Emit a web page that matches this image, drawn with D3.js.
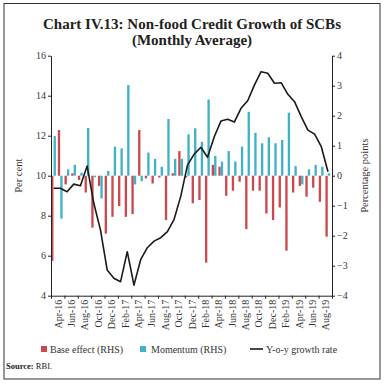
<!DOCTYPE html>
<html>
<head>
<meta charset="utf-8">
<script src="https://cdn.jsdelivr.net/npm/d3@7"></script>
<style>
  html, body { margin: 0; padding: 0; background: #fff; }
  svg { display: block; font-family: "Liberation Serif", "DejaVu Serif", serif; }
  .axis path, .axis line { stroke: #222; }
  .axis text { fill: #333; font-size: 10px; font-family: "Liberation Serif", serif; }
</style>
</head>
<body>
<div id="chart"></div>
<script>
// Month labels (Apr-16 .. Sep-19)
const months = [
  'Apr-16','May-16','Jun-16','Jul-16','Aug-16','Sep-16','Oct-16','Nov-16','Dec-16','Jan-17','Feb-17','Mar-17',
  'Apr-17','May-17','Jun-17','Jul-17','Aug-17','Sep-17','Oct-17','Nov-17','Dec-17','Jan-18','Feb-18','Mar-18',
  'Apr-18','May-18','Jun-18','Jul-18','Aug-18','Sep-18','Oct-18','Nov-18','Dec-18','Jan-19','Feb-19','Mar-19',
  'Apr-19','May-19','Jun-19','Jul-19','Aug-19','Sep-19'
];

// Base effect (RHS, percentage points)
const baseEffect = [
  -2.84, 1.52, -0.29, 0.08, -0.14, -0.56, -1.73, -0.34, -1.93, -1.37, -1.01, -1.37,
  -1.28, 1.52, -0.09, -0.26, -0.06, -1.48, 0.08, 0.82, -0.06, -0.92, -0.81, -2.9,
  0.36, 0.3, -0.67, -0.5, -0.2, -1.78, -0.5, -0.5, -1.26, -1.48, -1.06, -2.5,
  -0.56, -0.34, -0.7, -0.4, -0.87, -2.03
];

// Momentum (RHS, percentage points)
const momentum = [
  1.32, -1.43, 0.21, 0.36, 0.1, 1.59, -0.05, -0.76, 0.16, 0.97, 0.91, 3.02,
  -0.29, -0.18, 0.77, 0.56, 0.3, 1.89, 0.56, 0.56, 1.38, 1.58, 1.13, 2.54,
  0.66, 0.47, 0.82, 0.47, 0.97, 2.13, 1.43, 1.08, 1.28, 1.08, 1.19, 2.1,
  0.32, -0.29, 0.21, 0.36, 0.3, 0.08
];

// Y-o-y growth rate (LHS, per cent)
const yoyGrowth = [
  9.37, 9.37, 9.2, 9.58, 9.5, 10.48, 8.62, 7.28, 5.28, 4.87, 4.7, 6.2,
  4.53, 5.8, 6.4, 6.73, 6.9, 7.2, 7.82, 8.98, 10.53, 11.08, 11.42, 10.92,
  11.95, 12.73, 12.82, 12.68, 13.37, 13.75, 14.53, 15.2, 15.12, 14.62, 14.65, 14.07,
  13.7, 12.95, 12.28, 12.08, 11.45, 10.2
];

const leftTicks = [4, 6, 8, 10, 12, 14, 16];
const rightTicks = [-4, -3, -2, -1, 0, 1, 2, 3, 4];

const W = 384, H = 385;
const plot = { left: 51, right: 332, top: 55.7, bottom: 295.7 };
const RED = '#c9494e', BLUE = '#3fb1c8';

const svg = d3.select('#chart').append('svg')
  .attr('width', W).attr('height', H);

// frame
svg.append('rect')
  .attr('x', 4).attr('y', 3.5).attr('width', 376).attr('height', 375.5)
  .attr('fill', 'none').attr('stroke', '#333').attr('stroke-width', 1);

// title
const title = svg.append('text')
  .attr('text-anchor', 'middle')
  .attr('font-weight', 'bold').attr('font-size', 15).attr('fill', '#222');
title.append('tspan').attr('x', 192).attr('y', 29).text('Chart IV.13: Non-food Credit Growth of SCBs');
title.append('tspan').attr('x', 192).attr('y', 45).text('(Monthly Average)');

// scales
const x = d3.scaleBand().domain(months).range([plot.left, plot.right]).padding(0);
const xi = d3.scaleLinear().domain([0, months.length]).range([plot.left, plot.right]);
const sub = d3.scaleBand().domain(['base', 'momentum'])
  .range([0, x.bandwidth() * 0.75]).paddingInner(0.05).paddingOuter(0.05);
const yL = d3.scaleLinear().domain([4, 16]).range([plot.bottom, plot.top]);
const yR = d3.scaleLinear().domain([-4, 4]).range([plot.bottom, plot.top]);

// bars
const series = [
  { key: 'base', values: baseEffect, color: RED },
  { key: 'momentum', values: momentum, color: BLUE }
];
series.forEach(s => {
  svg.append('g').selectAll('rect')
    .data(s.values)
    .join('rect')
    .attr('x', (d, i) => x(months[i]) + sub(s.key))
    .attr('width', sub.bandwidth())
    .attr('y', d => yR(Math.max(0, d)))
    .attr('height', d => Math.abs(yR(d) - yR(0)))
    .attr('fill', s.color);
});

// line
const line = d3.line()
  .x((d, i) => x(months[i]) + x.bandwidth() * 0.4)
  .y(d => yL(d));
svg.append('path')
  .datum(yoyGrowth)
  .attr('d', line)
  .attr('fill', 'none').attr('stroke', '#1a1a1a').attr('stroke-width', 1.6)
  .attr('stroke-linejoin', 'round');

// left axis
svg.append('g').attr('class', 'axis')
  .attr('transform', `translate(${plot.left},0)`)
  .call(d3.axisLeft(yL).tickValues(leftTicks).tickSize(3).tickPadding(2).tickSizeOuter(0));

// right axis
svg.append('g').attr('class', 'axis')
  .attr('transform', `translate(${plot.right},0)`)
  .call(d3.axisRight(yR).tickValues(rightTicks).tickSize(3).tickPadding(2).tickSizeOuter(0));

// bottom axis: ticks every two months at boundaries
const tickIdx = d3.range(0, months.length + 1, 2);
svg.append('g').attr('class', 'axis')
  .attr('transform', `translate(0,${plot.bottom})`)
  .call(d3.axisBottom(xi).tickValues(tickIdx).tickSize(3).tickSizeOuter(0).tickFormat(''));

// bottom labels between the ticks
const labelIdx = d3.range(1, months.length, 2);
const xLab = svg.append('g').attr('class', 'axis')
  .attr('transform', `translate(0,${plot.bottom})`)
  .call(d3.axisBottom(xi).tickValues(labelIdx).tickSize(0).tickPadding(0)
    .tickFormat(i => months[i - 1]));
xLab.select('.domain').remove();
xLab.selectAll('text')
  .attr('transform', 'rotate(-90)')
  .attr('x', -4).attr('y', 0).attr('dy', '0.35em')
  .attr('text-anchor', 'end');

// axis titles
svg.append('text')
  .attr('transform', `translate(18,${(plot.top + plot.bottom) / 2}) rotate(-90)`)
  .attr('text-anchor', 'middle').attr('dy', '0.35em')
  .attr('font-size', 10.5).attr('fill', '#333').text('Per cent');
svg.append('text')
  .attr('transform', `translate(364,${(plot.top + plot.bottom) / 2}) rotate(-90)`)
  .attr('text-anchor', 'middle').attr('dy', '0.35em')
  .attr('font-size', 10.5).attr('fill', '#333').text('Percentage points');

// legend
const legend = svg.append('g').attr('font-size', 10).attr('fill', '#333');
legend.append('rect').attr('x', 41).attr('y', 346).attr('width', 6).attr('height', 6).attr('fill', RED);
legend.append('text').attr('x', 50).attr('y', 352.5).text('Base effect (RHS)');
legend.append('rect').attr('x', 140).attr('y', 346).attr('width', 6).attr('height', 6).attr('fill', BLUE);
legend.append('text').attr('x', 151).attr('y', 352.5).text('Momentum (RHS)');
legend.append('line').attr('x1', 250).attr('x2', 263).attr('y1', 349).attr('y2', 349)
  .attr('stroke', '#1a1a1a').attr('stroke-width', 1.6);
legend.append('text').attr('x', 266).attr('y', 352.5).text('Y-o-y growth rate');

// source
const src = svg.append('text').attr('x', 6).attr('y', 369).attr('font-size', 8.5).attr('fill', '#222');
src.append('tspan').attr('font-weight', 'bold').text('Source: ');
src.append('tspan').text('RBI.');
</script>
</body>
</html>
